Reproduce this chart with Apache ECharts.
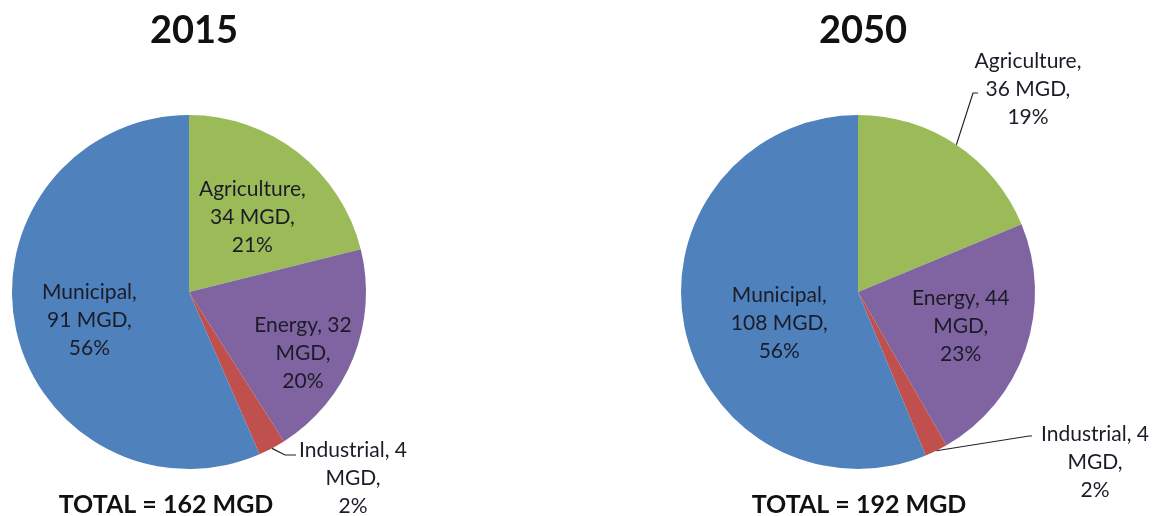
<!DOCTYPE html>
<html><head><meta charset="utf-8">
<script src="https://cdn.jsdelivr.net/npm/echarts@6/dist/echarts.min.js"></script>
<style>html,body{margin:0;padding:0;background:#fff}#c{width:1153px;height:516px}</style>
</head><body><div id="c"></div>
<script>
// ---- data ----
const categories = ['Agriculture', 'Energy', 'Industrial', 'Municipal'];
const values2015 = [34, 32, 4, 91];
const values2050 = [36, 44, 4, 108];
const pct2015 = [21, 20, 2, 56];
const pct2050 = [19, 23, 2, 56];
const years = ['2015', '2050'];
const totals = [162, 192];
const unit = 'MGD';

// ---- styling / layout ----
const colors = ['#9BBB59', '#8064A2', '#C0504D', '#4F81BD'];
const centers = [[189, 292], [858, 292]];
const radius = 177;
const valueOnFirstLine = ['Energy', 'Industrial'];
const outsideLabels = [['Industrial'], ['Agriculture', 'Industrial']];
// label offsets; for outside labels: centre (x,y) and leader-line connector
// points relative to the label centre (mx,my = bend, ex,ey = end)
const labelPos = {
  '0-Agriculture': {dx: 7, dy: -3},
  '0-Energy': {dx: 29, dy: 27},
  '0-Municipal': {dx: -10, dy: 10},
  '0-Industrial': {x: 353, y: 478, mx: -68, my: -23, ex: -57, ey: -23},
  '1-Agriculture': {x: 1028, y: 89, mx: -55, my: 4, ex: -50, ey: 4},
  '1-Energy': {dx: 16, dy: 5},
  '1-Municipal': {dx: 11, dy: 13},
  '1-Industrial': {x: 1095, y: 462, mx: -66, my: -26, ex: -63, ey: -26}
};
const FONT = 'Lato';

const allValues = [values2015, values2050];
const allPct = [pct2015, pct2050];

function makeSeries(si) {
  return {
    type: 'pie',
    center: centers[si],
    radius: radius,
    startAngle: 90,
    clockwise: true,
    silent: true,
    animation: false,
    avoidLabelOverlap: false,
    itemStyle: {borderWidth: 0},
    label: {
      fontFamily: FONT, fontSize: 21, lineHeight: 28, color: '#1c1c28', align: 'center',
      formatter: function (p) {
        const pc = allPct[si][p.dataIndex];
        if (valueOnFirstLine.indexOf(p.name) >= 0) {
          return p.name + ', ' + p.value + '\n' + unit + ',\n' + pc + '%';
        }
        return p.name + ',\n' + p.value + ' ' + unit + ',\n' + pc + '%';
      }
    },
    labelLayout: function (params) {
      const key = si + '-' + categories[params.dataIndex];
      const o = labelPos[key] || {};
      if (o.x != null) {
        const res = {x: o.x, y: o.y, align: 'center', verticalAlign: 'middle'};
        if (params.labelLinePoints && params.labelLinePoints.length) {
          const a = params.labelLinePoints[0];
          res.labelLinePoints = [
            [a[0], a[1]],
            [o.x + o.mx, o.y + o.my],
            [o.x + o.ex, o.y + o.ey]
          ];
        }
        return res;
      }
      return {dx: o.dx || 0, dy: o.dy || 0};
    },
    data: categories.map(function (c, i) {
      const outside = outsideLabels[si].indexOf(c) >= 0;
      return {
        name: c,
        value: allValues[si][i],
        itemStyle: {color: colors[i]},
        label: {position: outside ? 'outside' : 'inside'},
        labelLine: {show: outside, length: 12, length2: 10, smooth: false,
          lineStyle: {color: '#222', width: 1.2}}
      };
    })
  };
}

const titles = [];
years.forEach(function (y, i) {
  titles.push({
    text: y, left: centers[i][0], top: 7, textAlign: 'center',
    textStyle: {fontFamily: FONT, fontWeight: 'bold', fontSize: 38, color: '#111'}
  });
});
const totalX = [161, 854];
totals.forEach(function (t, i) {
  titles.push({
    text: 'TOTAL = ' + t + ' ' + unit, left: totalX[i], top: 487, textAlign: 'center',
    textStyle: {fontFamily: FONT, fontWeight: 'bold', fontSize: 25, color: '#111'}
  });
});

const chart = echarts.init(document.getElementById('c'));
chart.setOption({
  backgroundColor: '#fff',
  animation: false,
  title: titles,
  series: [makeSeries(0), makeSeries(1)]
});
</script>
</body></html>
